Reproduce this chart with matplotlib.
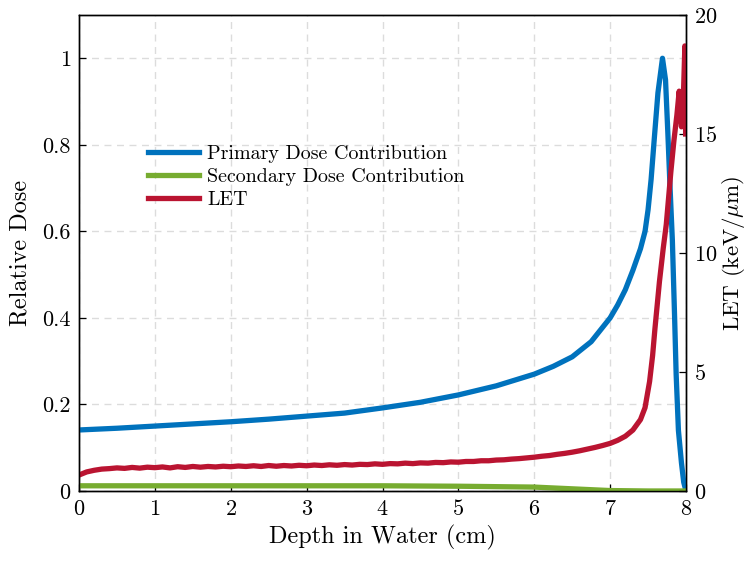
#!/usr/bin/env python3
"""
Depth dose profile with LET on a second axis.
Saves the figure to out.png.
"""

import matplotlib
matplotlib.use('Agg')
import matplotlib.pyplot as plt

# Primary dose contribution (relative)
depth_primary = [0, 0.5, 1, 1.5, 2, 2.5, 3, 3.5, 4, 4.5, 5, 5.5, 6, 6.25, 6.5,
                 6.75, 7.0, 7.1, 7.2, 7.3, 7.4, 7.46, 7.5, 7.54, 7.58, 7.63,
                 7.69, 7.73, 7.76, 7.79, 7.82, 7.85, 7.87, 7.9, 7.94, 7.97, 8.0]
primary = [0.141, 0.145, 0.150, 0.155, 0.160, 0.166, 0.173, 0.180, 0.192,
           0.205, 0.222, 0.243, 0.270, 0.288, 0.310, 0.345, 0.400, 0.430,
           0.465, 0.510, 0.560, 0.600, 0.650, 0.720, 0.810, 0.920, 1.000,
           0.950, 0.830, 0.700, 0.580, 0.400, 0.270, 0.140, 0.065, 0.020,
           0.000]

# Secondary dose contribution (relative)
depth_secondary = [0, 1, 2, 3, 4, 5, 5.5, 6, 6.25, 6.5, 6.75, 7, 7.25, 7.5, 8]
secondary = [0.012, 0.012, 0.012, 0.012, 0.012, 0.011, 0.010, 0.009, 0.007,
             0.005, 0.003, 0.001, 0.0005, 0.0, 0.0]

# LET in keV/um
depth_let = [0.0, 0.1, 0.2, 0.3, 0.4, 0.5, 0.6, 0.7, 0.8, 0.9,
             1.0, 1.1, 1.2, 1.3, 1.4, 1.5, 1.6, 1.7, 1.8, 1.9,
             2.0, 2.1, 2.2, 2.3, 2.4, 2.5, 2.6, 2.7, 2.8, 2.9,
             3.0, 3.1, 3.2, 3.3, 3.4, 3.5, 3.6, 3.7, 3.8, 3.9,
             4.0, 4.1, 4.2, 4.3, 4.4, 4.5, 4.6, 4.7, 4.8, 4.9,
             5.0, 5.1, 5.2, 5.3, 5.4, 5.5, 5.6, 5.7, 5.8, 5.9,
             6.0, 6.1, 6.2, 6.3, 6.4, 6.5, 6.6, 6.7, 6.8, 6.9,
             7.0, 7.1, 7.2, 7.3, 7.4, 7.46, 7.52, 7.56, 7.59, 7.65,
             7.7, 7.74, 7.8, 7.84, 7.88, 7.91, 7.94, 7.96, 7.985, 7.995]
let_values = [0.67, 0.80, 0.87, 0.92, 0.94, 0.97, 0.95, 0.99, 0.96, 1.00,
              0.98, 1.01, 0.97, 1.02, 0.99, 1.03, 1.00, 1.03, 1.01, 1.04,
              1.02, 1.05, 1.03, 1.06, 1.03, 1.07, 1.04, 1.07, 1.05, 1.08,
              1.06, 1.09, 1.07, 1.10, 1.08, 1.11, 1.09, 1.12, 1.11, 1.14,
              1.12, 1.15, 1.14, 1.17, 1.15, 1.18, 1.17, 1.20, 1.19, 1.22,
              1.21, 1.24, 1.24, 1.27, 1.27, 1.30, 1.31, 1.34, 1.36, 1.39,
              1.42, 1.46, 1.49, 1.54, 1.58, 1.63, 1.69, 1.76, 1.83, 1.91,
              2.00, 2.13, 2.30, 2.56, 3.00, 3.50, 4.60, 5.70, 6.80, 8.80,
              10.2, 11.2, 13.4, 14.7, 15.8, 16.8, 15.3, 16.0, 18.7, 15.0]

x_ticks = [0, 1, 2, 3, 4, 5, 6, 7, 8]
dose_ticks = [0, 0.2, 0.4, 0.6, 0.8, 1]
dose_tick_labels = ['0', '0.2', '0.4', '0.6', '0.8', '1']
let_ticks = [0, 5, 10, 15, 20]

plt.rcParams['font.family'] = 'cmr10'
plt.rcParams['mathtext.fontset'] = 'cm'
plt.rcParams['axes.formatter.use_mathtext'] = True
plt.rcParams['axes.unicode_minus'] = False

fig = plt.figure(figsize=(7.49, 5.61), dpi=100)
ax = fig.add_axes([0.1055, 0.1248, 0.8104, 0.8485])

blue = '#0072BD'
green = '#77AC30'
red = '#BA1431'
lw = 3.8

l1, = ax.plot(depth_primary, primary, color=blue, lw=lw,
              label='Primary Dose Contribution', zorder=3)
l2, = ax.plot(depth_secondary, secondary, color=green, lw=lw,
              label='Secondary Dose Contribution', zorder=3)

ax.set_xlim(0, 8)
ax.set_ylim(0, 1.1)
ax.set_xticks(x_ticks)
ax.set_yticks(dose_ticks)
ax.set_yticklabels(dose_tick_labels)
ax.grid(True, linestyle=(0, (5, 4)), color='#dcdcdc', lw=1.0)
ax.set_axisbelow(True)
ax.tick_params(direction='in', labelsize=16, length=5, width=0.9, top=False,
               pad=6)
ax.set_xlabel('Depth in Water (cm)', fontsize=17.5, labelpad=4)
ax.set_ylabel('Relative Dose', fontsize=17.5, labelpad=8)

ax2 = ax.twinx()
l3, = ax2.plot(depth_let, let_values, color=red, lw=lw, label='LET')
ax2.set_ylim(0, 20)
ax2.set_yticks(let_ticks)
ax2.tick_params(direction='in', labelsize=16, length=5, width=0.9, pad=6)
ax2.set_ylabel(r'LET (keV/$\mu$m)', fontsize=16.5, labelpad=2)

for a in (ax, ax2):
    for s in a.spines.values():
        s.set_linewidth(1.0)
        s.set_color('black')

ax2.legend(handles=[l1, l2, l3], loc='upper left',
           bbox_to_anchor=(0.1136, 0.727), frameon=False, fontsize=14.4,
           handlelength=2.55, handletextpad=0.4, labelspacing=0.25,
           borderaxespad=0, borderpad=0)

fig.savefig('out.png', dpi=100, facecolor='white')
plt.close(fig)
